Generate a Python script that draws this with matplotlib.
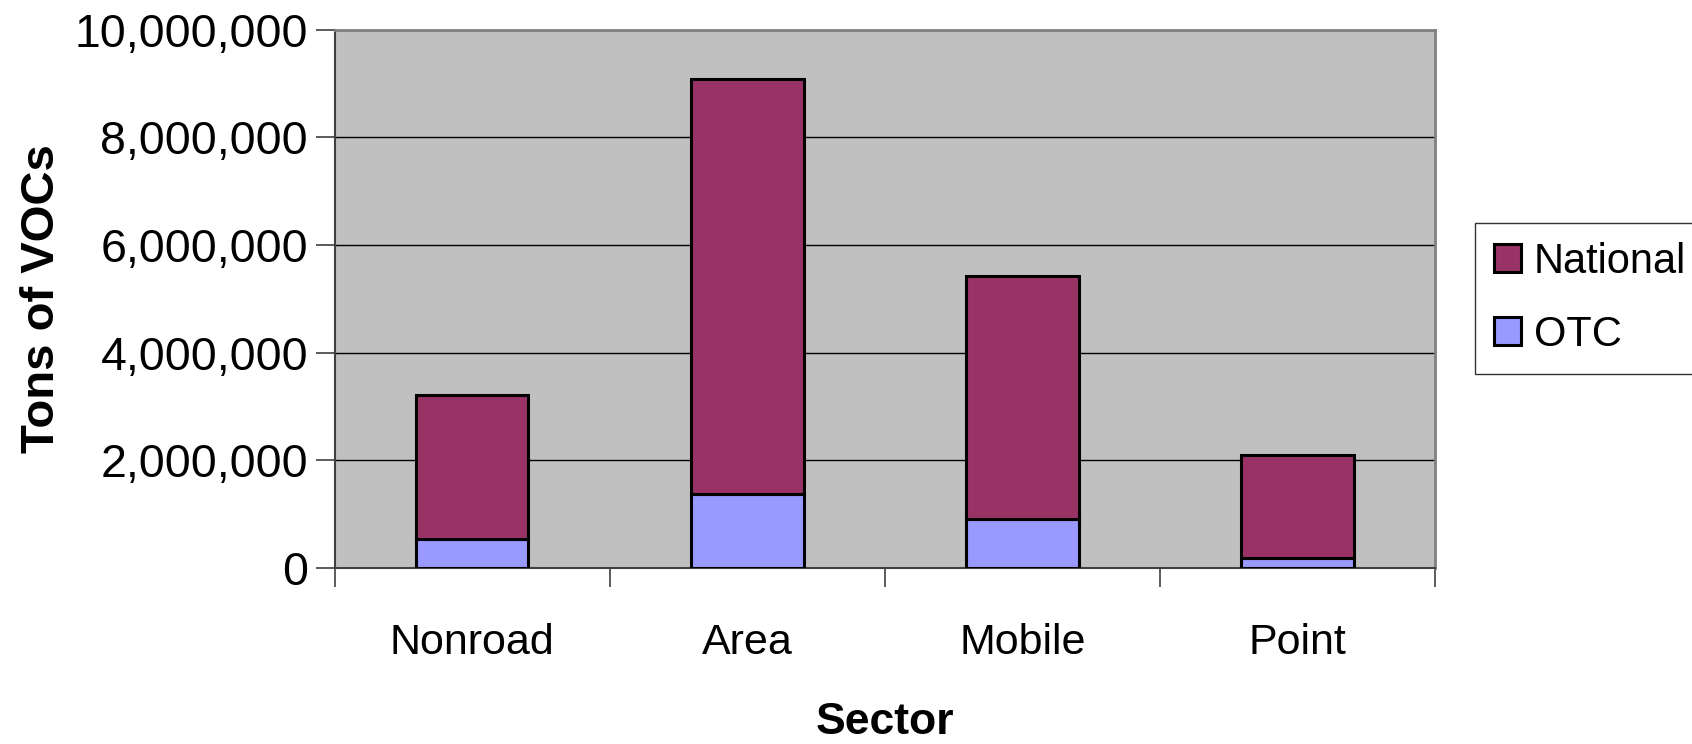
import numpy as np
import matplotlib.pyplot as plt
from matplotlib.ticker import FuncFormatter, FixedLocator

plt.rcParams['font.family'] = ['Liberation Sans', 'DejaVu Sans']

sectors = ['Nonroad', 'Area', 'Mobile', 'Point']
otc = [540000, 1370000, 900000, 180000]
national = [2670000, 7710000, 4520000, 1910000]  # stacked on top of OTC

fig = plt.figure(figsize=(16.92, 7.44), dpi=100)
ax = fig.add_axes([0.1977, 0.237, 0.8481 - 0.1977, 0.96 - 0.237])
ax.set_facecolor('#C0C0C0')

x = np.arange(len(sectors))
w = 0.41
ax.bar(x, otc, w, color='#9999FF', edgecolor='black', linewidth=2.2, label='OTC', zorder=3)
ax.bar(x, national, w, bottom=otc, color='#993366', edgecolor='black', linewidth=2.2,
       label='National', zorder=3)

ax.set_xlim(-0.5, 3.5)
ax.set_ylim(0, 10000000)
ax.set_yticks(np.arange(0, 10000001, 2000000))
ax.yaxis.set_major_formatter(FuncFormatter(lambda v, p: f'{int(v):,}'))
ax.grid(axis='y', color='black', linewidth=1.0, zorder=1)

# category ticks between groups, labels at centres
ax.xaxis.set_major_locator(FixedLocator(np.arange(-0.5, 3.6, 1)))
ax.xaxis.set_major_formatter(FuncFormatter(lambda v, p: ''))
ax.xaxis.set_minor_locator(FixedLocator(x))
ax.set_xticklabels(sectors, minor=True)
ax.tick_params(axis='x', which='minor', length=0, labelsize=31, pad=40)
ax.tick_params(axis='x', which='major', length=14, width=1.2, color='#404040')
ax.tick_params(axis='y', length=14, width=1.2, color='#404040', labelsize=33.5, pad=5)

for s in ['top', 'right']:
    ax.spines[s].set_color('#808080')
    ax.spines[s].set_linewidth(2)
ax.spines['left'].set_color('#404040')
ax.spines['bottom'].set_color('#404040')
ax.spines['left'].set_linewidth(1.5)
ax.spines['bottom'].set_linewidth(1.5)

ax.set_ylabel('Tons of VOCs', fontsize=34, fontweight='bold', labelpad=8)
ax.set_xlabel('Sector', fontsize=32, fontweight='bold', labelpad=28)

h, l = ax.get_legend_handles_labels()
leg = ax.legend(h[::-1], l[::-1], loc='center left', bbox_to_anchor=(0.872, 0.599),
                bbox_transform=fig.transFigure, fontsize=30, frameon=True, fancybox=False,
                edgecolor='black', handlelength=0.65, handleheight=0.65, handletextpad=0.3,
                labelspacing=0.8, borderpad=0.45, borderaxespad=0)
leg.get_frame().set_linewidth(1.0)

fig.savefig('out.png', dpi=100)
